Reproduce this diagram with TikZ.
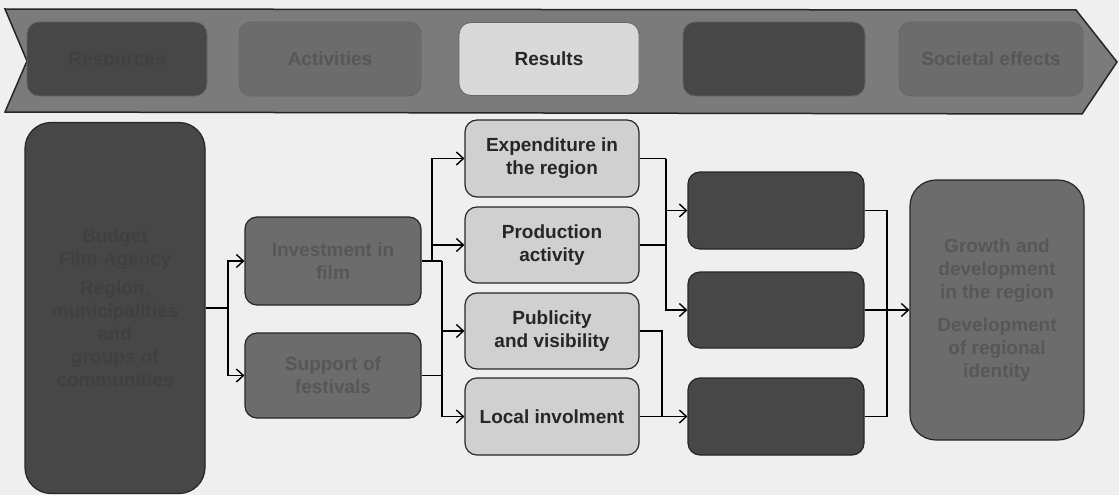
\documentclass[tikz,border=0pt]{standalone}
\usepackage{fontspec}
\setmainfont{Liberation Sans}
\usetikzlibrary{arrows.meta}
\definecolor{bg}{HTML}{EFEFEF}
\definecolor{dark}{HTML}{474747}
\definecolor{darktxt}{HTML}{404040}
\definecolor{mid}{HTML}{6C6C6C}
\definecolor{midtxt}{HTML}{575757}
\definecolor{light}{HTML}{D0D0D0}
\definecolor{lighter}{HTML}{D9D9D9}
\definecolor{band}{HTML}{7B7B7B}
\tikzset{
  box/.style={draw=black!85, line width=1.2pt, rounded corners=12pt, align=center,
    font=\bfseries\fontsize{19}{23}\selectfont, inner sep=2pt},
  darkbox/.style={box, fill=dark, text=darktxt},
  midbox/.style={box, fill=mid, text=midtxt},
  lightbox/.style={box, fill=light, text=black!85},
  headbox/.style={draw=black!60, line width=0.8pt},
  bigbox/.style={rounded corners=26pt},
  conn/.style={draw=black, line width=1.6pt},
  arr/.style={conn, -{Straight Barb[length=7pt,width=13pt,line width=1.4pt]}},
}
\begin{document}
\begin{tikzpicture}[x=1pt,y=-1pt]
\fill[bg] (0,0) rectangle (1119,495);
\useasboundingbox (0,0) rectangle (1119,495);
% banner
\draw[fill=band, draw=black!85, line width=1.5pt]
  (5,9) -- (1076,10) -- (1117,62) -- (1082,114) -- (5,112) -- (27,61) -- cycle;
% header boxes
\node[darkbox, headbox, minimum width=180pt, minimum height=74pt] (hres) at (117,59) {Resources};
\node[midbox, headbox, minimum width=182pt, minimum height=74pt] (hact) at (330,59) {Activities};
\node[lightbox, headbox, fill=lighter, minimum width=180pt, minimum height=73pt] (hresu) at (549,59) {Results};
\node[darkbox, headbox, minimum width=182pt, minimum height=74pt] (himp) at (774,59) {};
\node[midbox, headbox, minimum width=184pt, minimum height=74pt] (hsoc) at (991,59) {Societal effects};
% main boxes
\node[darkbox, bigbox, minimum width=180pt, minimum height=371pt] (tall) at (115,308)
  {Budget\\Film Agency\\[6pt]Region,\\municipalities\\and\\groups of\\communities};
\node[midbox, minimum width=176pt, minimum height=88pt] (inv) at (333,261) {Investment in\\film};
\node[midbox, minimum width=176pt, minimum height=85pt] (sup) at (333,375.5) {Support of\\festivals};
\node[lightbox, minimum width=174pt, minimum height=77pt] (exp) at (552,158.5) {Expenditure in\\the region};
\node[lightbox, minimum width=174pt, minimum height=76pt] (prod) at (552,245) {Production\\activity};
\node[lightbox, minimum width=174pt, minimum height=76pt] (pub) at (552,331) {Publicity\\and visibility};
\node[lightbox, minimum width=174pt, minimum height=77pt] (loc) at (552,416.5) {Local involment};
\node[darkbox, minimum width=176pt, minimum height=77pt] (bb) at (776,210.5) {};
\node[darkbox, minimum width=176pt, minimum height=76pt] (cc) at (776,310) {};
\node[darkbox, minimum width=176pt, minimum height=77pt] (dd) at (776,416.5) {};
\node[midbox, bigbox, minimum width=174pt, minimum height=260pt] (gro) at (997,310)
  {Growth and\\development\\in the region\\[10pt]Development\\of regional\\identity};
% junctions
\coordinate (j1) at (228,308);
\coordinate (j2) at (432,261);
\coordinate (j3) at (442,261);
\coordinate (j4) at (666,158.5);
\coordinate (j5) at (662,331);
\coordinate (j6) at (887,310);
% connectors
\draw[conn] (tall.east) -- (j1);
\draw[arr] (j1) |- (inv.west);
\draw[arr] (j1) |- (sup.west);
\draw[conn] (inv.east) -- (j3);
\draw[arr] (j2) |- (exp.west);
\draw[arr] (j2) |- (prod.west);
\draw[arr] (j3) |- (pub.west);
\draw[arr] (j3) |- (loc.west);
\draw[conn] (sup.east) -- (sup.east -| j3);
\draw[conn] (exp.east) -- (j4);
\draw[arr] (j4) |- (bb.west);
\draw[arr] (j4) |- (cc.west);
\draw[conn] (prod.east) -- (prod.east -| j4);
\draw[conn] (pub.east) -- (j5) -- (j5 |- dd.west);
\draw[arr] (loc.east) -- (dd.west);
\draw[conn] (bb.east) -| (j6);
\draw[conn] (dd.east) -| (j6);
\draw[arr] (cc.east) -- (gro.west);
\end{tikzpicture}
\end{document}
